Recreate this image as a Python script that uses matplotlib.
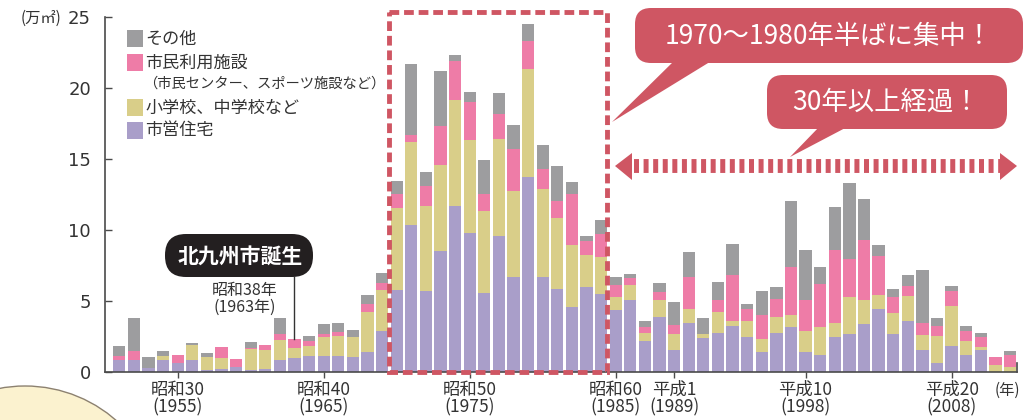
import matplotlib
matplotlib.use('Agg')
import matplotlib.pyplot as plt
from matplotlib.patches import FancyBboxPatch, Polygon, Rectangle, Ellipse
from matplotlib.lines import Line2D

plt.rcParams['font.family'] = ['Noto Sans CJK JP', 'DejaVu Sans']

# ---------------- data ----------------
years = list(range(1951, 2013))
housing = [0.87, 0.87, 0.33, 0.87, 0.66, 0.87, 0.16, 0.23, 0.38, 0.16,
           0.23, 0.87, 1.01, 1.15, 1.15, 1.15, 1.08, 1.43, 2.91,
           5.80, 10.38, 5.73, 8.54, 11.71, 9.81, 5.59, 9.60, 6.71, 13.76,
           6.71, 5.87, 4.60, 6.01, 5.52, 4.39,
           5.09, 2.21, 3.90, 1.57, 3.47, 2.42, 2.77, 3.26, 2.49, 1.43,
           2.77, 3.19, 1.43, 1.22, 2.49, 2.70, 3.40, 4.46, 2.70, 3.62,
           1.57, 0.66, 1.85, 1.22, 1.57, 0.0, 0.0]
schools = [0.0, 0.0, 0.0, 0.28, 0.0, 1.06, 0.92, 0.77, 0.0, 1.46,
           1.34, 1.41, 0.70, 0.70, 1.34, 1.41, 1.41, 2.82, 2.91,
           5.77, 5.85, 5.99, 6.06, 7.46, 6.55, 5.77, 6.83, 6.06, 7.61,
           6.20, 5.00, 4.37, 2.25, 2.61, 0.92,
           1.06, 0.56, 1.20, 1.13, 0.99, 0.28, 1.48, 0.35, 1.13, 0.92,
           1.13, 0.85, 1.48, 1.97, 0.99, 2.61, 1.69, 0.99, 1.48, 1.76,
           1.06, 1.90, 2.82, 0.99, 0.21, 0.52, 0.38]
civic = [0.31, 0.61, 0.0, 0.0, 0.56, 0.0, 0.0, 0.77, 0.56, 0.09,
         0.38, 0.42, 0.63, 0.33, 0.21, 0.28, 0.0, 0.59, 0.47,
         1.01, 0.49, 1.41, 2.75, 2.75, 2.68, 1.20, 1.76, 2.96, 1.97,
         1.41, 1.20, 3.59, 0.99, 1.62, 0.85,
         0.49, 0.42, 0.56, 0.63, 2.25, 0.0, 0.85, 3.24, 0.85, 1.69,
         1.27, 3.38, 2.18, 3.03, 5.14, 2.68, 4.23, 2.75, 1.13, 0.70,
         0.85, 0.70, 1.06, 0.70, 0.70, 0.56, 0.85]
other = [0.68, 2.35, 0.75, 0.35, 0.0, 0.14, 0.28, 0.0, 0.0, 0.42,
         0.0, 1.13, 0.0, 0.38, 0.70, 0.63, 0.49, 0.61, 0.70,
         0.89, 5.00, 0.99, 3.87, 0.42, 0.70, 2.39, 1.48, 1.69, 1.20,
         1.69, 2.46, 0.85, 0.35, 0.99, 0.56,
         0.28, 0.42, 0.63, 1.62, 1.76, 1.13, 1.27, 2.18, 0.35, 1.69,
         0.85, 4.65, 3.52, 1.20, 3.03, 5.35, 2.89, 0.77, 0.56, 0.77,
         3.73, 0.56, 0.35, 0.35, 0.28, 0.0, 0.28]

series_names = ['市営住宅', '小学校、中学校など', '市民利用施設', 'その他']
tick_years = [1955, 1965, 1975, 1985, 1989, 1998, 2008]
tick_labels = ['昭和30\n(1955)', '昭和40\n(1965)', '昭和50\n(1975)',
               '昭和60\n(1985)', '平成1\n(1989)', '平成10\n(1998)',
               '平成20\n(2008)']
y_ticks = [0, 5, 10, 15, 20, 25]

C_PURPLE = '#A99EC9'
C_YELLOW = '#D9CE89'
C_PINK = '#EE7CA7'
C_GRAY = '#9D9D9F'
C_RED = '#CF5663'
C_AXIS = '#4A4A4A'

# ---------------- figure ----------------
W, H = 1024, 420
fig = plt.figure(figsize=(W / 100, H / 100), dpi=100)
fig.patch.set_facecolor('white')

ax_left, ax_right, ax_top, ax_bot = 105, 1017, 17.3, 372.3
ax = fig.add_axes([ax_left / W, 1 - ax_bot / H, (ax_right - ax_left) / W,
                   (ax_bot - ax_top) / H])
ax.patch.set_alpha(0)

bw = 0.84
b1 = housing
b2 = [a + b for a, b in zip(housing, schools)]
b3 = [a + b for a, b in zip(b2, civic)]
ax.bar(years, housing, width=bw, color=C_PURPLE, linewidth=0)
ax.bar(years, schools, width=bw, bottom=b1, color=C_YELLOW, linewidth=0)
ax.bar(years, civic, width=bw, bottom=b2, color=C_PINK, linewidth=0)
ax.bar(years, other, width=bw, bottom=b3, color=C_GRAY, linewidth=0)

ax.set_xlim(1950.02, 2012.48)
ax.set_ylim(0, 25)
for s in ['top', 'right']:
    ax.spines[s].set_visible(False)
for s in ['left', 'bottom']:
    ax.spines[s].set_color(C_AXIS)
    ax.spines[s].set_linewidth(1.2)

ax.set_xticks(tick_years)
ax.set_xticklabels(tick_labels, fontsize=12.5, linespacing=1.0, color='#333333')
ax.tick_params(axis='x', direction='out', length=4, width=1, color=C_AXIS, pad=2)
ax.set_yticks(y_ticks)
ax.set_yticklabels([str(v) for v in y_ticks], fontsize=13, color='#333333')
for lbl in ax.get_yticklabels():
    lbl.set_fontfamily(['DejaVu Sans'])
ax.tick_params(axis='y', direction='in', length=5, width=1, color=C_AXIS, pad=10)

# ---------------- overlay (pixel coordinates) ----------------
ov = fig.add_axes([0, 0, 1, 1], zorder=5)
ov.set_xlim(0, W)
ov.set_ylim(H, 0)
ov.axis('off')
ov.patch.set_alpha(0)

# decorative cream circle bottom-left
ov.add_patch(Ellipse((25, 524), 276, 276, facecolor='#FBF2CF',
                     edgecolor='#8C8170', linewidth=1.0, zorder=0))

# right-end small mark on x axis
ov.add_line(Line2D([1017, 1017], [372.3, 363], color=C_AXIS, lw=1.2))

# unit labels
ov.text(41, 18, '(万㎡)', fontsize=11, ha='center', va='center', color='#333333')
ov.text(1007, 390, '(年)', fontsize=11, ha='center', va='center', color='#333333')

# legend
leg = [(C_GRAY, 38.5, 'その他'), (C_PINK, 62.5, '市民利用施設'),
       (C_YELLOW, 107.5, '小学校、中学校など'), (C_PURPLE, 130.5, '市営住宅')]
for col, yc, txt in leg:
    ov.add_patch(Rectangle((127, yc - 8.5), 16, 17, facecolor=col, edgecolor='none'))
    ov.text(145, yc, txt, fontsize=12.3, ha='left', va='center', color='#333333')
ov.text(143, 84, '（市民センター、スポーツ施設など）', fontsize=10.3,
        ha='left', va='center', color='#333333')

# red dashed box
ov.add_patch(Rectangle((389, 12), 218, 360, facecolor='none', edgecolor=C_RED,
                       linewidth=3.5, linestyle=(0, (2.0, 1.0)), zorder=6,
                       capstyle='butt'))

# callout 1
ov.add_patch(FancyBboxPatch((635, 8), 388, 55,
                            boxstyle='round,pad=0,rounding_size=16',
                            facecolor=C_RED, edgecolor='none', zorder=7))
ov.add_patch(Polygon([(675, 60), (713, 60), (612, 122)], closed=True,
                     facecolor=C_RED, edgecolor='none', zorder=7))
ov.text(829, 36, '1970〜1980年半ばに集中！', fontsize=19, color='white',
        ha='center', va='center', zorder=8)

# callout 2
ov.add_patch(FancyBboxPatch((767, 75), 240, 54,
                            boxstyle='round,pad=0,rounding_size=16',
                            facecolor=C_RED, edgecolor='none', zorder=7))
ov.add_patch(Polygon([(820, 126), (849, 126), (790, 157)], closed=True,
                     facecolor=C_RED, edgecolor='none', zorder=7))
ov.text(886, 102, '30年以上経過！', fontsize=19, color='white',
        ha='center', va='center', zorder=8)

# dotted double arrow
ov.add_line(Line2D([634, 1000], [166, 166], color=C_RED, lw=10,
                   linestyle=(0, (0.36, 0.33)), solid_capstyle='butt',
                   dash_capstyle='butt', zorder=7))
ov.add_patch(Polygon([(615, 166), (632, 153), (632, 180)], closed=True,
                     facecolor=C_RED, edgecolor='none', zorder=7))
ov.add_patch(Polygon([(1017, 166), (1000, 153), (1000, 180)], closed=True,
                     facecolor=C_RED, edgecolor='none', zorder=7))

# 北九州市誕生 label
ov.add_patch(FancyBboxPatch((165, 234), 148, 43,
                            boxstyle='round,pad=0,rounding_size=21',
                            facecolor='#231F20', edgecolor='none', zorder=7))
ov.text(240, 256, '北九州市誕生', fontsize=15, fontweight='bold', color='white',
        ha='center', va='center', zorder=8)
ov.add_line(Line2D([294, 294], [277, 339], color='#333333', lw=1.0, zorder=6))
ov.text(245, 290, '昭和38年', fontsize=11.5, color='#333333', ha='center', va='center')
ov.text(245, 307, '(1963年)', fontsize=11.5, color='#333333', ha='center', va='center')

fig.savefig('out.png', dpi=100, facecolor='white')
